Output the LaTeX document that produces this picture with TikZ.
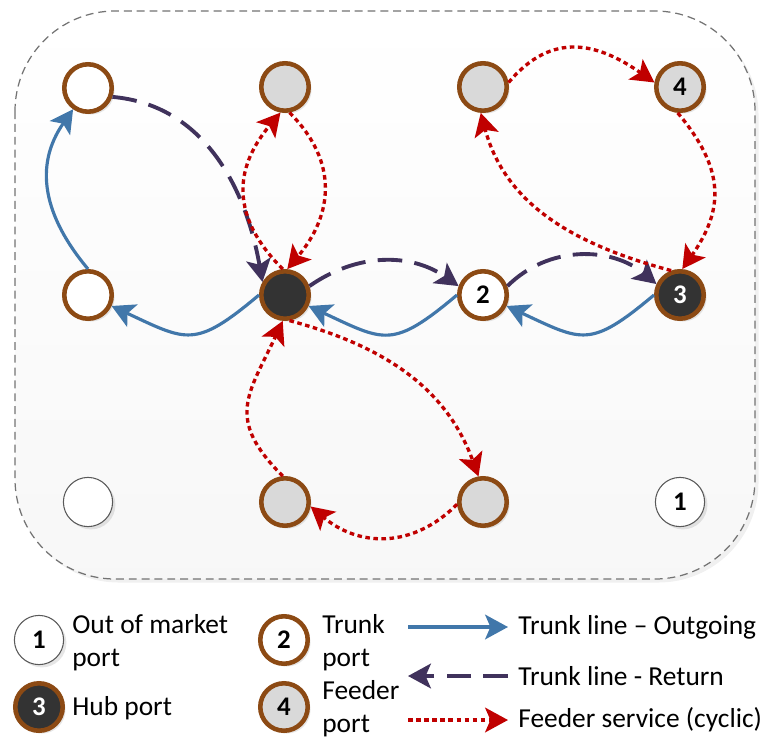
\documentclass[tikz,border=0pt]{standalone}
\usepackage{fontspec}
\setmainfont{Carlito}
\usetikzlibrary{arrows.meta,shadows}

\definecolor{portbrown}{RGB}{140,74,20}
\definecolor{hubgray}{RGB}{51,51,51}
\definecolor{feedergray}{RGB}{217,217,217}
\definecolor{trunkblue}{RGB}{65,119,170}
\definecolor{returnpurple}{RGB}{64,50,92}
\definecolor{feederred}{RGB}{192,0,0}

\begin{document}
\begin{tikzpicture}[%
      x=0.02cm, y=-0.02cm,
      port/.style={circle, minimum size=27pt, inner sep=0pt, line width=2.6pt,
        draw=portbrown, font=\fontsize{15.3}{18}\selectfont\bfseries,
        drop shadow={opacity=0.2, shadow xshift=1.6pt, shadow yshift=-1.6pt}},
      trunkport/.style={port, fill=white},
      hubport/.style={port, fill=hubgray, text=white},
      feederport/.style={port, fill=feedergray},
      outport/.style={port, fill=white, draw=black!65, line width=0.6pt, minimum size=28pt},
      keytext/.style={anchor=west, inner sep=0pt, align=left,
        font=\fontsize{15.6}{18.7}\selectfont},
      tip/.style={-{Stealth[length=13pt, width=14pt, inset=3pt]}},
      outgoing/.style={tip, color=trunkblue, line width=1.8pt},
      trunkreturn/.style={tip, color=returnpurple, line width=2.2pt, dash pattern=on 14pt off 7pt},
      feeder/.style={tip, color=feederred, line width=1.9pt, dash pattern=on 2.6pt off 2pt},
      ]
      \useasboundingbox (0,0) rectangle (766,740);

      \draw[draw=black!55, line width=0.7pt, dash pattern=on 4.5pt off 2.8pt,
        rounded corners=57pt, top color=white, bottom color=black!3,
        drop shadow={opacity=0.12, shadow xshift=2pt, shadow yshift=-2pt}]
        (15,11) rectangle (755,579);

      \node[trunkport] (trunkA) at (88,88) {};
      \node[feederport] (feedA) at (285,87) {};
      \node[feederport] (feedB) at (483,87) {};
      \node[feederport] (feedE) at (680,87) {4};

      \node[trunkport] (trunkB) at (88,295) {};
      \node[hubport] (hubA) at (285,295) {};
      \node[trunkport] (trunkC) at (483,295) {2};
      \node[hubport] (hubB) at (680,295) {3};

      \node[outport] (outA) at (88,502) {};
      \node[feederport] (feedD) at (285,502) {};
      \node[feederport] (feedC) at (483,502) {};
      \node[outport] (outB) at (680,502) {1};

      \draw[outgoing] (hubA.west) to[out=-140, in=-25, looseness=1.45] (trunkB);
      \draw[outgoing] (trunkC.west) to[out=-140, in=-25, looseness=1.45] (hubA);
      \draw[outgoing] (hubB.west) to[out=-140, in=-25, looseness=1.45] (trunkC);
      \draw[outgoing] (trunkB.north) to[out=130, in=-125, looseness=1.1] (trunkA);

      \draw[trunkreturn] (trunkA.-20) to[out=-5, in=100] (hubA.150);
      \draw[trunkreturn] (hubA.20) to[out=35, in=145] (trunkC.160);
      \draw[trunkreturn] (trunkC.20) to[out=45, in=140] (hubB.155);

      \draw[feeder] (hubA.95) to[out=135, in=-130, looseness=1.2] (feedA.-100);
      \draw[feeder] (feedA.-80) to[out=-45, in=50, looseness=1.15] (hubA.85);
      \draw[feeder] (feedB.10) to[out=50, in=145, looseness=1.2] (feedE.170);
      \draw[feeder] (feedE.-95) to[out=-50, in=55, looseness=1.2] (hubB.85);
      \draw[feeder] (hubB.110) to[out=165, in=-75] (feedB.-95);
      \draw[feeder] (hubA.-80) to[out=-15, in=110] (feedC.100);
      \draw[feeder] (feedC.-175) to[out=-135, in=-40, looseness=1.1] (feedD.-10);
      \draw[feeder] (feedD.95) to[out=135, in=-115, looseness=1.35] (hubA.-95);

      \node[outport] (keyout) at (39,640) {1};
      \node[keytext] (keyouttext) at (72,643) {Out of market\\port};
      \node[trunkport] (keytrunk) at (284,640) {2};
      \node[keytext] (keytrunktext) at (322,643) {Trunk\\port};
      \node[hubport] (keyhub) at (39,707) {3};
      \node[keytext] (keyhubtext) at (72,708) {Hub port};
      \node[feederport] (keyfeeder) at (284,707) {4};
      \node[keytext] (keyfeedertext) at (322,709) {Feeder\\port};

      \coordinate (outstart) at (408,627);
      \coordinate (outend) at (508,627);
      \coordinate (retstart) at (508,676);
      \coordinate (retend) at (408,676);
      \coordinate (feedstart) at (408,720);
      \coordinate (feedend) at (508,720);
      \draw[outgoing] (outstart) -- (outend);
      \draw[trunkreturn] (retstart) -- (retend);
      \draw[feeder] (feedstart) -- (feedend);
      \node[keytext] (keyoutgoing) at (518,627) {Trunk line – Outgoing};
      \node[keytext] (keyreturn) at (518,676) {Trunk line - Return};
      \node[keytext] (keyfeed) at (518,720) {Feeder service (cyclic)};
\end{tikzpicture}
\end{document}
